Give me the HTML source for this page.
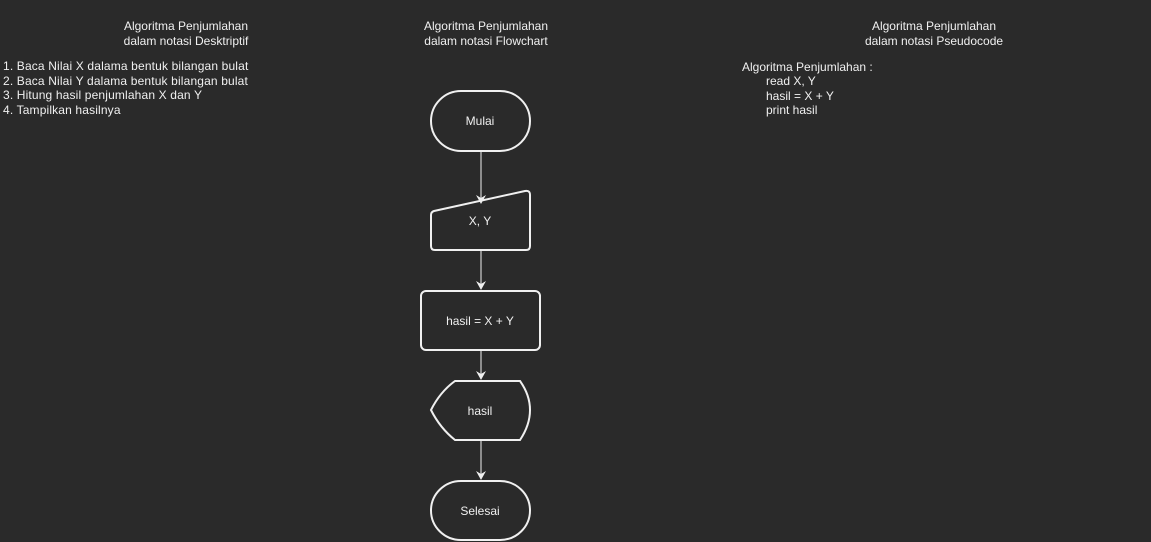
<!DOCTYPE html>
<html><head><meta charset="utf-8"><style>
html,body{margin:0;padding:0;background:#2a2a2a;}
svg{display:block;}
text{font-family:"Liberation Sans",Arial,sans-serif;font-size:12px;fill:#f0f0f0;}
</style></head><body>
<svg width="1151" height="542" viewBox="0 0 1151 542" xmlns="http://www.w3.org/2000/svg">
<rect width="1151" height="542" fill="#2a2a2a"/>
<defs><marker id="a" markerWidth="10" markerHeight="10" refX="8" refY="5" orient="auto" markerUnits="userSpaceOnUse"><path d="M0,0 L9,5 L0,10 L3,5 Z" fill="#f0f0f0"/></marker></defs>
<g text-anchor="middle">
<text x="186" y="30">Algoritma Penjumlahan</text><text x="186" y="45">dalam notasi Desktriptif</text>
<text x="486" y="30">Algoritma Penjumlahan</text><text x="486" y="45">dalam notasi Flowchart</text>
<text x="934" y="30">Algoritma Penjumlahan</text><text x="934" y="45">dalam notasi Pseudocode</text>
</g>
<g style="letter-spacing:0.15px">
<text x="3" y="70">1. Baca Nilai X dalama bentuk bilangan bulat</text>
<text x="3" y="85">2. Baca Nilai Y dalama bentuk bilangan bulat</text>
<text x="3" y="99">3. Hitung hasil penjumlahan X dan Y</text>
<text x="3" y="114">4. Tampilkan hasilnya</text>
</g>
<text x="742" y="71">Algoritma Penjumlahan :</text>
<text x="766" y="85">read X, Y</text>
<text x="766" y="100">hasil = X + Y</text>
<text x="766" y="114">print hasil</text>
<g fill="none" stroke="#f0f0f0" stroke-width="2">
<rect x="431" y="91" width="99" height="60" rx="30"/>
<path d="M434,211 L525,191 Q530,190 530,195 L530,246 Q530,250 526,250 L435,250 Q431,250 431,246 L431,215 Q431,212 434,211 Z"/>
<rect x="421" y="291" width="119" height="59" rx="5"/>
<path d="M455,381 L520,381 Q530,395 530,410 Q530,425 520,440 L455,440 Q440,428 431,410 Q440,392 455,381 Z"/>
<rect x="431" y="481" width="99" height="59" rx="30"/>
</g>
<g stroke="#f0f0f0" stroke-width="1">
<line x1="481" y1="151" x2="481" y2="203" marker-end="url(#a)"/>
<line x1="481" y1="250" x2="481" y2="289" marker-end="url(#a)"/>
<line x1="481" y1="350" x2="481" y2="379" marker-end="url(#a)"/>
<line x1="481" y1="440" x2="481" y2="479" marker-end="url(#a)"/>
</g>
<g text-anchor="middle">
<text x="480" y="125">Mulai</text>
<text x="480" y="225">X, Y</text>
<text x="480" y="325">hasil = X + Y</text>
<text x="480" y="415">hasil</text>
<text x="480" y="515">Selesai</text>
</g>
</svg>
</body></html>
